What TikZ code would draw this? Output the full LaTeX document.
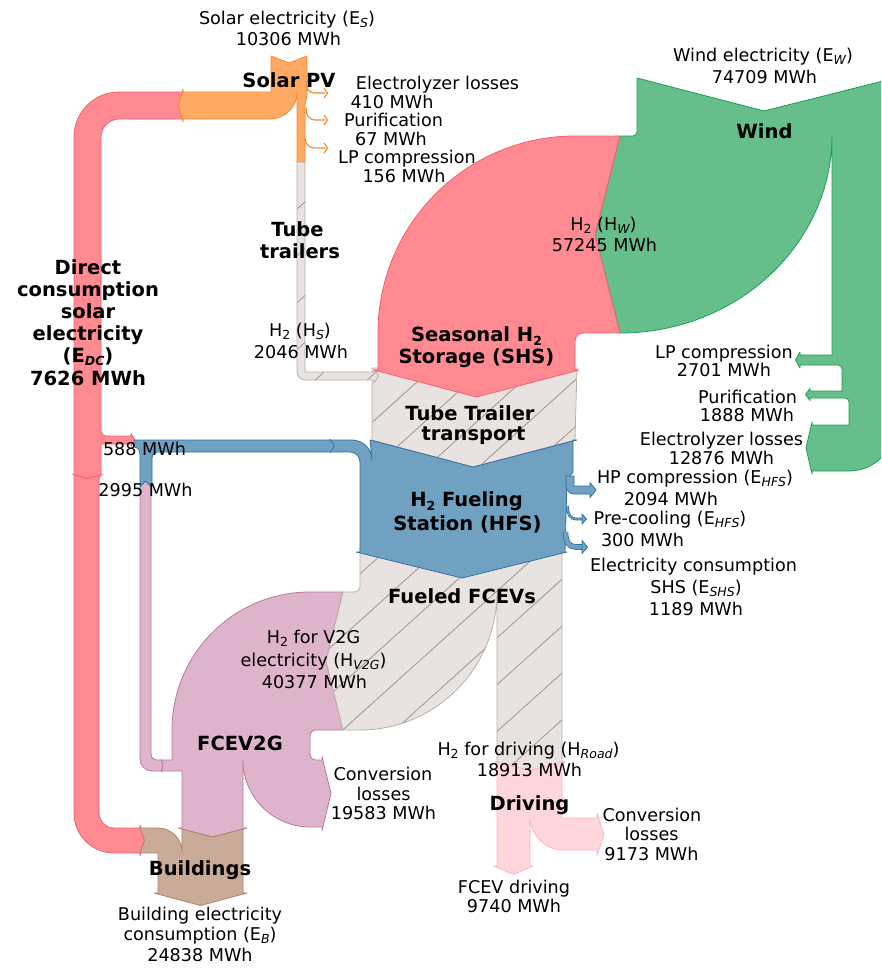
\documentclass[tikz,border=0pt]{standalone}
\usepackage{fontspec}
\setmainfont{DejaVu Sans}
\newcommand\isub[1]{\raisebox{-0.32ex}{\fontsize{12.5}{12.5}\selectfont\itshape #1}}
\newcommand\nsub[1]{\raisebox{-0.32ex}{\fontsize{12.5}{12.5}\selectfont #1}}
\definecolor{redF}{RGB}{255,138,146}
\definecolor{redD}{RGB}{245,95,105}
\definecolor{orF}{RGB}{255,170,100}
\definecolor{orD}{RGB}{250,135,45}
\definecolor{grF}{RGB}{102,191,139}
\definecolor{grD}{RGB}{25,160,85}
\definecolor{blF}{RGB}{112,161,193}
\definecolor{blD}{RGB}{45,115,165}
\definecolor{mvF}{RGB}{222,180,204}
\definecolor{mvD}{RGB}{190,120,160}
\definecolor{brF}{RGB}{202,170,152}
\definecolor{brD}{RGB}{175,130,105}
\definecolor{pkF}{RGB}{255,214,219}
\definecolor{pkD}{RGB}{255,180,190}
\definecolor{gyF}{RGB}{232,226,224}
\definecolor{gyD}{RGB}{185,175,171}
\definecolor{hatchC}{RGB}{160,150,145}
% outlines of the hatched hydrogen flows
\def\pathHS{(297,162) -- (305,162) -- (305,372) -- (374,372) -- (374,369) -- (378.5,376) -- (374,383) -- (374,380) -- (305,380) .. controls (300.6,380) and (297,375.6) .. (297,372) -- cycle}
\def\pathTT{(372,368) -- (577,368) -- (575,440) -- (473,467) -- (372,440) -- cycle}
\def\pathFF{(360,548) -- (562,548) -- (562,762) -- (565,762) -- (530,771) -- (495,762) -- (497,762) -- (497,592) .. controls (497,668.2) and (435.6,730) .. (360,730) -- (343,730) -- (326,661) -- (343,592) -- (354,592) .. controls (357.3,592) and (360,589.3) .. (360,586) -- cycle}
\newcommand\hatchfill{\foreach \hx in {-1049,-997,...,900} \draw[hatch] (\hx,1000) -- ++(1110,-1000);}
\begin{document}
\begin{tikzpicture}[x=1pt,y=-1pt,
  band/.style={line width=0.8pt,line join=round},
  redband/.style={band,fill=redF,draw=redD},
  orband/.style={band,fill=orF,draw=orD},
  grband/.style={band,fill=grF,draw=grD},
  blband/.style={band,fill=blF,draw=blD},
  mvband/.style={band,fill=mvF,draw=mvD},
  brband/.style={band,fill=brF,draw=brD},
  pkband/.style={band,fill=pkF,draw=pkD},
  gyline/.style={band,draw=gyD},
  hatch/.style={draw=hatchC,line width=0.8pt},
  lab/.style={anchor=base,inner sep=0pt,font=\fontsize{17.6}{20}\selectfont},
  blab/.style={anchor=base,inner sep=0pt,font=\fontsize{19.5}{22}\selectfont\bfseries},
]
\useasboundingbox (0,0) rectangle (881,972);
\fill[white] (0,0) rectangle (881,972);
\clip (0,0) rectangle (881,972);

% direct consumption of solar electricity
\path[redband] (183,92) -- (119,92) .. controls (94.2,92) and (74,112.2) .. (74,137) -- (74,813) .. controls (74,835.1) and (91.9,853) .. (114,853) -- (140,853) -- (140,856) -- (144.5,840.5) -- (140,825) -- (140,828) -- (114,828) .. controls (105.7,828) and (99,821.3) .. (99,813) -- (99,478) -- (101,475) -- (101,444) -- (131,444) -- (131,446.5) -- (135,440) -- (131,433.5) -- (131,436) -- (106,436) .. controls (103.2,436) and (101,433.8) .. (101,431) -- (101,137) .. controls (101,127.1) and (109.1,119) .. (119,119) -- (183,119) -- (179,105.5) -- cycle;
\draw[redD,line width=0.8pt] (72,474) -- (87,478.5) -- (103,474.5);

% solar PV
\path[orband] (271,56) -- (289,63) -- (307,56) -- (307,95) -- (305,105) -- (305,162) -- (297,162) -- (297,92) .. controls (297,106.9) and (284.9,119) .. (270,119) -- (183,119) -- (183,122) -- (178.5,105.5) -- (183,89) -- (183,92) -- (271,92) -- cycle;
\draw[orD,line width=1.3pt] (306,82) .. controls (306,89) and (309,93) .. (315,93) -- (325,93);
\draw[orD,line width=1.1pt] (324,88) -- (327.5,93) -- (324,98);
\draw[orD,line width=1.1pt] (306,108) .. controls (306,115) and (309,120) .. (315,120) -- (325,120);
\draw[orD,line width=1.1pt] (324,115) -- (327.5,120) -- (324,125);
\draw[orD,line width=1.1pt] (305,138) .. controls (305,144) and (309,148) .. (315,148) -- (325,148);
\draw[orD,line width=1.1pt] (324,143) -- (327.5,148) -- (324,153);

% tube trailer transport box
\begin{scope}
  \clip \pathTT;
  \fill[gyF] (300,300) rectangle (700,500);
  \hatchfill
\end{scope}
\path[gyline] \pathTT;

% hydrogen from solar by tube trailers
\begin{scope}
  \clip \pathHS;
  \fill[gyF] (280,150) rectangle (400,400);
  \hatchfill
\end{scope}
\path[gyline] \pathHS;

% wind
\path[grband] (637,78) -- (764,111) -- (895,78) -- (895,425) .. controls (895,450.4) and (874.4,471) .. (849,471) -- (812,471) -- (812,474) -- (806,448) -- (812,422) -- (812,425) -- (849,425) -- (849,402) .. controls (849,399.8) and (847.2,398) .. (845,398) -- (810,398) -- (810,400.5) -- (805.5,394.5) -- (810,388.5) -- (810,391) -- (842,391) -- (842,369) .. controls (842,366.8) and (840.2,365) .. (838,365) -- (800,365) -- (800,368) -- (795.5,360) -- (800,352) -- (800,355) -- (832,355) -- (832,135) .. controls (832,244.3) and (737,333) .. (620,333) -- (595,234.5) -- (620,136) -- (633,136) .. controls (635.2,136) and (637,134.2) .. (637,132) -- cycle;

% seasonal storage
\path[redband] (620,136) -- (575,136) .. controls (466.3,136) and (378,224.3) .. (378,333) -- (378,370) -- (374,370) -- (476.5,397) -- (579,370) -- (575,370) -- (575,341) .. controls (575,336.6) and (578.6,333) .. (583,333) -- (620,333) -- (595,234.5) -- cycle;

% fuel cell vehicles used for V2G
\path[mvband] (343,592) -- (310,592) .. controls (233.8,592) and (172,653.8) .. (172,730) -- (172,760) -- (157,760) .. controls (153.7,760) and (151,757.3) .. (151,754) -- (151,487) -- (145.5,481) -- (140,487) -- (140,759) .. controls (140,765.6) and (145.4,771) .. (152,771) -- (182,771) -- (182,828) -- (178,828) -- (212.5,837) -- (247,828) -- (243,828) -- (243,760) .. controls (243,797) and (273,827) .. (310,827) -- (322,827) -- (322,830.5) -- (331,793.5) -- (322,756.5) -- (322,760) -- (316,760) .. controls (312.7,760) and (310,757.3) .. (310,754) -- (310,736) .. controls (310,732.7) and (312.7,730) .. (316,730) -- (343,730) -- (326,661) -- cycle;
\draw[mvD,line width=0.8pt] (161,759) -- (163,765.5) -- (161,772);

% fueled vehicles
\begin{scope}
  \clip \pathFF;
  \fill[gyF] (300,500) rectangle (600,800);
  \hatchfill
\end{scope}
\path[gyline] \pathFF;

% fueling station
\path[blband] (134,440) -- (352,440) .. controls (363,440) and (372,449) .. (372,460) -- (370,440) -- (473,467) -- (577,440) -- (573,440) -- (573,472) -- (567,480) -- (565,552) -- (567,552) -- (462,578) -- (356,552) -- (360,552) -- (360,462) .. controls (360,456.5) and (355.5,452) .. (350,452) -- (158,452) .. controls (154.7,452) and (152,454.7) .. (152,458) -- (152,487) -- (145.5,481) -- (140,487) -- (140,455) .. controls (140,450.5) and (138,447) .. (134,447) -- cycle;
\draw[blD,line width=0.8pt] (330,439) -- (334.5,446) -- (330,453);
\path[blband] (566,476) -- (574,476) -- (574,486) -- (590,486) -- (590,482.5) -- (596,490) -- (590,497.5) -- (590,494) -- (574,494) .. controls (569.6,494) and (566,490.4) .. (566,486) -- cycle;
\draw[blD,line width=2.8pt] (567.5,506) .. controls (567.5,514) and (570,519) .. (576,519) -- (582,519);
\draw[blF,line width=1.2pt] (567.5,506) .. controls (567.5,514) and (570,519) .. (576,519) -- (582.5,519);
\path[blband] (582,514) -- (586.5,519) -- (582,524) -- cycle;
\draw[blD,line width=5.6pt] (565.5,532) .. controls (565.5,542) and (569,547) .. (576,547) -- (582,547);
\draw[blF,line width=4pt] (565.5,532) .. controls (565.5,542) and (569,547) .. (576,547) -- (582.5,547);
\path[blband] (582,540.5) -- (587.5,547) -- (582,553.5) -- cycle;

% buildings
\path[brband] (140,828) -- (158,828) .. controls (171.2,828) and (182,838.8) .. (182,852) -- (182,829) -- (212.5,837) -- (243,829) -- (243,893) -- (247,893) -- (200.5,905.5) -- (154,893) -- (158,893) -- (158,853) -- (140,853) -- (144.5,840.5) -- cycle;

% driving
\path[pkband] (497,762) -- (530,770.5) -- (562,762) -- (562,818) -- (597,818) -- (597,813.5) -- (604,834.5) -- (597,855.5) -- (597,850) -- (562,850) .. controls (544.3,850) and (530,832.3) .. (530,818) -- (530,866) -- (533,866) -- (513.5,874.5) -- (494,866) -- (497,866) -- cycle;

% labels
\node[lab] (tSolarE) at (287,24.3) {Solar electricity (E\isub{S})};
\node[lab] (tSolarV) at (288.5,45.7) {10306 MWh};
\node[blab] (tSolarPV) at (289,87.3) {Solar PV};
\node[lab] (tSelA) at (437.5,89.3) {Electrolyzer losses};
\node[lab] (tSelB) at (392,108.3) {410 MWh};
\node[lab] (tSpuA) at (393.5,126) {Purification};
\node[lab] (tSpuB) at (391,145.7) {67 MWh};
\node[lab] (tSlpA) at (407,163.3) {LP compression};
\node[lab] (tSlpB) at (404,182.3) {156 MWh};

\node[lab] (tWindE) at (763,61.7) {Wind electricity (E\isub{W})};
\node[lab] (tWindV) at (764.5,83.3) {74709 MWh};
\node[blab] (tWind) at (764.5,138.3) {Wind};
\node[lab] (tHwA) at (603.5,230) {H\nsub{2} (H\isub{W})};
\node[lab] (tHwB) at (604.5,251) {57245 MWh};

\node[lab] (tWlpA) at (724,358.3) {LP compression};
\node[lab] (tWlpB) at (724,376.7) {2701 MWh};
\node[lab] (tWpuA) at (747.5,403.3) {Purification};
\node[lab] (tWpuB) at (747,421.7) {1888 MWh};
\node[lab] (tWelA) at (721.5,445) {Electrolyzer losses};
\node[lab] (tWelB) at (721.5,464) {12876 MWh};

\node[blab] (tShsA) at (476.5,341.7) {Seasonal H\nsub{2}};
\node[blab] (tShsB) at (476.5,363) {Storage (SHS)};

\node[blab] (tTubeA) at (297.5,236.7) {Tube};
\node[blab] (tTubeB) at (300,258.3) {trailers};
\node[lab] (tHsA) at (300,336.7) {H\nsub{2} (H\isub{S})};
\node[lab] (tHsB) at (301,358.3) {2046 MWh};

\node[blab] (tTtA) at (470,420) {Tube Trailer};
\node[blab] (tTtB) at (473.5,440) {transport};

\node[blab] (tHfsA) at (466.5,506.7) {H\nsub{2} Fueling};
\node[blab] (tHfsB) at (467.5,530) {Station (HFS)};
\node[blab] (tFuel) at (462,603.3) {Fueled FCEVs};

\node[lab] (tHpA) at (695,483.3) {HP compression (E\isub{HFS})};
\node[lab] (tHpB) at (671,505) {2094 MWh};
\node[lab] (tPcA) at (670,524) {Pre-cooling (E\isub{HFS})};
\node[lab] (tPcB) at (642.5,546) {300 MWh};
\node[lab] (tEsA) at (693.5,571.7) {Electricity consumption};
\node[lab] (tEsB) at (696,593.3) {SHS (E\isub{SHS})};
\node[lab] (tEsC) at (696,615) {1189 MWh};

\node[blab] (tDcA) at (88,274) {Direct};
\node[blab] (tDcB) at (88,296) {consumption};
\node[blab] (tDcC) at (88,318) {solar};
\node[blab] (tDcD) at (88,340) {electricity};
\node[blab] (tDcE) at (88,362) {(E\isub{DC})};
\node[blab] (tDcF) at (88,385) {7626 MWh};
\node[lab] (tDc588) at (144.5,455) {588 MWh};
\node[lab] (tV2gEl) at (145.5,496.7) {2995 MWh};

\node[lab] (tV2gA) at (313.5,643.3) {H\nsub{2} for V2G};
\node[lab] (tV2gB) at (313.5,666.7) {electricity (H\isub{V2G})};
\node[lab] (tV2gC) at (314.5,688.3) {40377 MWh};
\node[blab] (tFcev) at (240,750) {FCEV2G};
\node[lab] (tCl1A) at (383,780) {Conversion};
\node[lab] (tCl1B) at (383.5,800) {losses};
\node[lab] (tCl1C) at (383.5,819.3) {19583 MWh};

\node[lab] (tRoadA) at (528.5,755) {H\nsub{2} for driving (H\isub{Road})};
\node[lab] (tRoadB) at (529.5,776.7) {18913 MWh};
\node[blab] (tDrive) at (529.5,810.7) {Driving};
\node[lab] (tCl2A) at (652,821.7) {Conversion};
\node[lab] (tCl2B) at (651.5,840.7) {losses};
\node[lab] (tCl2C) at (651.5,860) {9173 MWh};
\node[lab] (tFdA) at (514,893.3) {FCEV driving};
\node[lab] (tFdB) at (514,912.3) {9740 MWh};

\node[blab] (tBuild) at (200,875) {Buildings};
\node[lab] (tBeA) at (200,920) {Building electricity};
\node[lab] (tBeB) at (200,940) {consumption (E\isub{B})};
\node[lab] (tBeC) at (200,961.7) {24838 MWh};
\end{tikzpicture}
\end{document}
